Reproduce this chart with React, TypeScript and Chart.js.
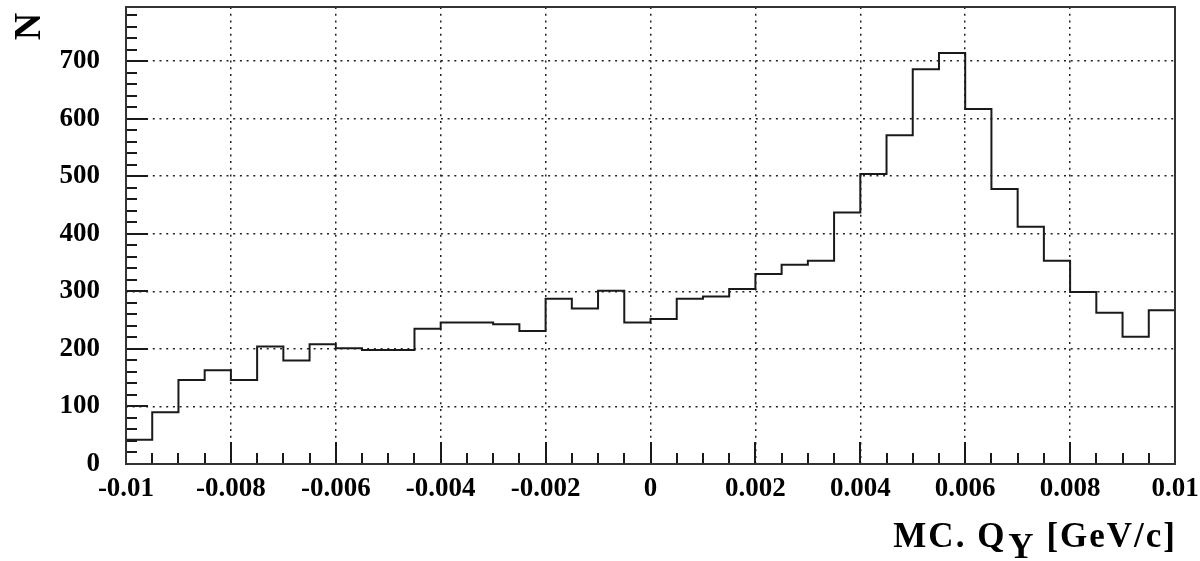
import React, { useEffect, useRef } from 'react';
import { Chart, registerables } from 'chart.js';

Chart.register(...registerables);

// Histogram binning (40 bins from -0.01 to 0.01)
const binStart = -0.01;
const binEnd = 0.01;
const binWidth = 0.0005;
const binCount = 40;

// Bin contents
const counts = [
  42, 90, 146, 163, 146, 204, 180, 208, 201, 198,
  198, 235, 246, 246, 243, 231, 287, 270, 301, 246,
  252, 287, 291, 304, 330, 346, 353, 437, 504, 571,
  686, 714, 617, 478, 412, 353, 299, 263, 221, 267,
];

// Axis range and labelled ticks
const yMin = 0;
const yMax = 794;
const yTicks = [0, 100, 200, 300, 400, 500, 600, 700];
const yMinorStep = 20;
const xTicks = [-0.01, -0.008, -0.006, -0.004, -0.002, 0, 0.002, 0.004, 0.006, 0.008, 0.01];
const xTickLabels = ['-0.01', '-0.008', '-0.006', '-0.004', '-0.002', '0', '0.002', '0.004', '0.006', '0.008', '0.01'];

const yTitle = 'N';
const xTitleMain = 'MC. Q';
const xTitleSub = 'Y';
const xTitleTail = ' [GeV/c]';

const FONT = '"Liberation Serif", "Times New Roman", serif';

const rootStyle = {
  id: 'rootStyle',
  afterDraw(chart: any) {
    const ctx: CanvasRenderingContext2D = chart.ctx;
    const a = chart.chartArea;
    const xs = chart.scales.x;
    const ys = chart.scales.y;
    ctx.save();
    ctx.setLineDash([]);
    ctx.globalAlpha = 1;
    ctx.fillStyle = '#1a1a1a';
    // inner tick marks on the y axis
    const nY = Math.floor(yMax / yMinorStep);
    for (let i = 0; i <= nY; i++) {
      const v = i * yMinorStep;
      const major = v % 100 === 0;
      const py = Math.round(ys.getPixelForValue(v));
      ctx.fillRect(a.left, py - 1, major ? 22 : 11, 2);
    }
    // inner tick marks on the x axis
    for (let i = 0; i <= binCount; i++) {
      const v = binStart + i * binWidth;
      const major = i % 4 === 0;
      const px = Math.round(xs.getPixelForValue(v));
      const len = major ? 22 : 11;
      ctx.fillRect(px - 1, a.bottom - len, 2, len);
    }
    // frame
    ctx.strokeStyle = '#333';
    ctx.lineWidth = 2;
    ctx.strokeRect(a.left, a.top, a.right - a.left, a.bottom - a.top);

    // y title (rotated)
    ctx.fillStyle = '#000';
    ctx.font = `bold 38px ${FONT}`;
    ctx.save();
    ctx.translate(40, 26.5);
    ctx.rotate(-Math.PI / 2);
    ctx.textAlign = 'center';
    ctx.textBaseline = 'alphabetic';
    ctx.fillText(yTitle, 0, 0);
    ctx.restore();

    // x title with subscript, right-aligned to the frame
    ctx.font = `bold 35px ${FONT}`;
    (ctx as any).letterSpacing = '2px';
    ctx.textAlign = 'left';
    ctx.textBaseline = 'alphabetic';
    const w1 = ctx.measureText(xTitleMain).width;
    const w2 = ctx.measureText(xTitleSub).width;
    const w3 = ctx.measureText(xTitleTail).width;
    const total = w1 + w2 + w3 + 2 - 2;
    let x0 = a.right - total;
    const base = 547;
    ctx.fillText(xTitleMain, x0, base);
    x0 += w1 + 2;
    ctx.fillText(xTitleSub, x0, base + 11);
    x0 += w2;
    ctx.fillText(xTitleTail, x0, base);
    ctx.restore();
  },
};

export default function App() {
  const ref = useRef<HTMLCanvasElement | null>(null);

  useEffect(() => {
    if (!ref.current) return;
    const points = counts.map((c, i) => ({ x: binStart + i * binWidth, y: c }));
    points.push({ x: binEnd, y: counts[counts.length - 1] });

    const chart = new Chart(ref.current, {
      type: 'line',
      data: {
        datasets: [
          {
            data: points,
            stepped: 'before',
            borderColor: '#1a1a1a',
            borderWidth: 2,
            pointRadius: 0,
            fill: false,
          } as any,
        ],
      },
      options: {
        responsive: false,
        animation: false,
        events: [],
        layout: { padding: { left: 0, top: 7, right: 25, bottom: 0 } },
        plugins: {
          legend: { display: false },
          tooltip: { enabled: false },
        },
        scales: {
          x: {
            type: 'linear',
            min: binStart,
            max: binEnd,
            afterBuildTicks: (s: any) => {
              s.ticks = xTicks.map((v) => ({ value: v }));
            },
            afterFit: (s: any) => {
              s.height = 97;
              s.paddingLeft = 0;
              s.paddingRight = 0;
            },
            ticks: {
              maxRotation: 0,
              minRotation: 0,
              autoSkip: false,
              padding: 9,
              color: '#000',
              font: { family: FONT, size: 27, weight: 'bold' },
              callback: (_v: any, i: number) => xTickLabels[i],
            },
            grid: {
              color: '#222',
              lineWidth: 1.5,
              drawTicks: false,
            },
            border: { display: false, dash: [2, 4.7] },
          },
          y: {
            type: 'linear',
            min: yMin,
            max: yMax,
            afterBuildTicks: (s: any) => {
              s.ticks = yTicks.map((v) => ({ value: v }));
            },
            afterFit: (s: any) => {
              s.width = 126;
              s.paddingTop = 0;
              s.paddingBottom = 0;
            },
            ticks: {
              autoSkip: false,
              padding: 26,
              color: '#000',
              font: { family: FONT, size: 27, weight: 'bold' },
              callback: (v: any) => String(v),
            },
            grid: {
              color: '#222',
              lineWidth: 1.5,
              drawTicks: false,
            },
            border: { display: false, dash: [2, 4.7] },
          },
        },
      },
      plugins: [rootStyle],
    });
    return () => chart.destroy();
  }, []);

  return (
    <div style={{ position: 'absolute', left: 0, top: 0, width: 1200, height: 561, background: '#fff' }}>
      <canvas ref={ref} width={1200} height={561} style={{ display: 'block' }} />
    </div>
  );
}
